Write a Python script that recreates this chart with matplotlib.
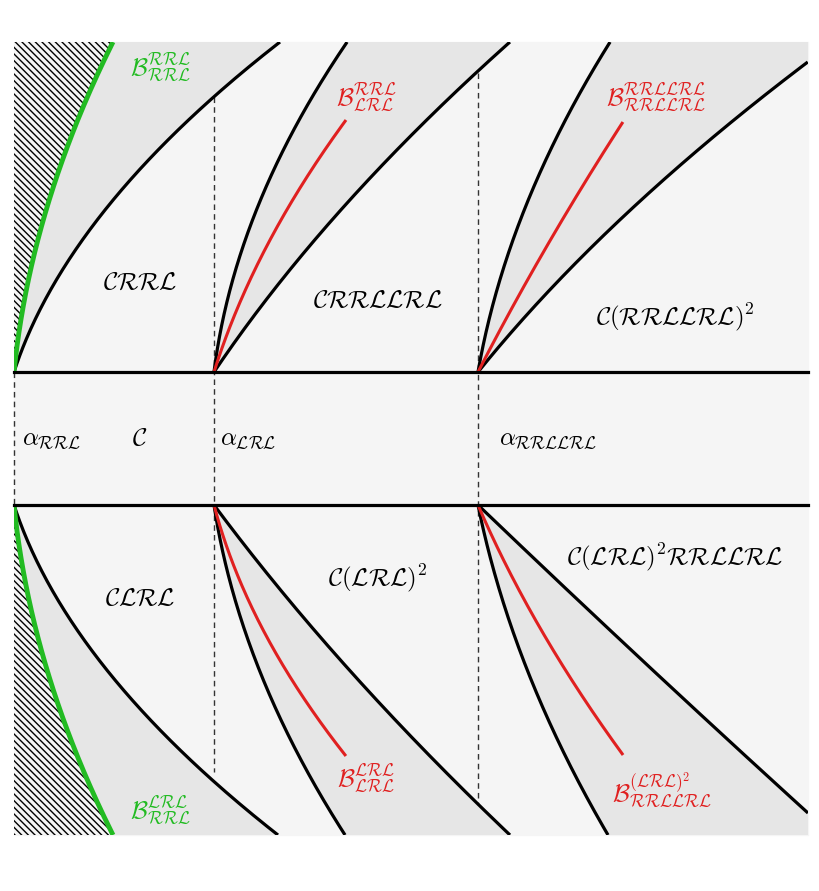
import numpy as np
import matplotlib
matplotlib.use("Agg")
import matplotlib.pyplot as plt
from matplotlib.patches import Rectangle, Polygon

plt.rcParams['mathtext.fontset'] = 'cm'

W, H = 820, 891
PX0, PX1, PY0, PY1 = 14, 808, 42, 835
Y_UP, Y_LO = 372, 505

# curves (pixel coordinates: x list, y list)
green_top_x = [14, 43, 73, 113];      green_top_y = [372, 223, 130, 42]
blk1_top_x = [14, 90, 213, 280];      blk1_top_y = [372, 230, 97, 42]
blk2L_top_x = [214, 228, 242, 256, 297, 347]; blk2L_top_y = [372, 300, 240, 200, 140, 42]
blk2R_top_x = [214, 278, 313, 348, 400, 478, 510]; blk2R_top_y = [372, 300, 240, 200, 140, 73, 42]
red2_top_x = [214, 243, 268, 293, 346]; red2_top_y = [372, 300, 240, 200, 120]
blk3L_top_x = [478, 495, 513, 522, 562, 610]; blk3L_top_y = [372, 300, 240, 200, 140, 42]
blk3R_top_x = [478, 563, 630, 703, 808]; blk3R_top_y = [372, 300, 200, 140, 62]
red3_top_x = [478, 523, 565, 623];    red3_top_y = [372, 300, 205, 122]

green_bot_x = [14, 43, 73, 113];      green_bot_y = [505, 654, 747, 835]
blk1_bot_x = [14, 90, 200, 278];      blk1_bot_y = [505, 647, 770, 835]
blk2L_bot_x = [214, 237, 265, 297, 345]; blk2L_bot_y = [505, 600, 700, 740, 835]
blk2R_bot_x = [214, 295, 322, 370, 417, 510]; blk2R_bot_y = [505, 600, 640, 700, 740, 835]
red2_bot_x = [214, 252, 300, 346];    red2_bot_y = [505, 600, 700, 756]
blk3L_bot_x = [478, 502, 540, 608];   blk3L_bot_y = [505, 600, 700, 835]
blk3R_bot_x = [478, 580, 683, 808];   blk3R_bot_y = [505, 600, 700, 813]
red3_bot_x = [478, 522, 588, 623];    red3_bot_y = [505, 600, 700, 755]

fig = plt.figure(figsize=(W/100, H/100), dpi=100)
ax = fig.add_axes([0, 0, 1, 1])
ax.set_xlim(0, W); ax.set_ylim(H, 0); ax.axis('off')
clip = Rectangle((PX0, PY0), PX1-PX0, PY1-PY0, transform=ax.transData)
ax.add_patch(Rectangle((PX0, PY0), PX1-PX0, PY1-PY0, color='#f5f5f5', zorder=0))

def smooth(xs, ys, n=200):
    ys = np.asarray(ys, float); xs = np.asarray(xs, float)
    w = np.ones_like(xs); w[0] = 20; w[-1] = 5
    c = np.polyfit(ys, xs, 2, w=w)
    yy = np.linspace(ys[0], ys[-1], n)
    return np.polyval(c, yy), yy

def wedge(L, R, yedge):
    xl, yl = L; xr, yr = R
    px = np.r_[xl, xl[-1], 900, 900, xr[::-1]]
    py = np.r_[yl, yedge, yedge, yr[-1], yr[::-1]]
    poly = Polygon(np.column_stack([px, py]), color='#e6e6e6', zorder=1, lw=0)
    ax.add_patch(poly); poly.set_clip_path(clip)

def line(c, color, lw):
    l, = ax.plot(c[0], c[1], color=color, lw=lw, zorder=3, solid_capstyle='butt')
    l.set_clip_path(clip)

for (gx, gy, b1x, b1y, b2lx, b2ly, b2rx, b2ry, r2x, r2y, b3lx, b3ly, b3rx, b3ry, r3x, r3y, yedge) in [
    (green_top_x, green_top_y, blk1_top_x, blk1_top_y, blk2L_top_x, blk2L_top_y,
     blk2R_top_x, blk2R_top_y, red2_top_x, red2_top_y, blk3L_top_x, blk3L_top_y,
     blk3R_top_x, blk3R_top_y, red3_top_x, red3_top_y, PY0),
    (green_bot_x, green_bot_y, blk1_bot_x, blk1_bot_y, blk2L_bot_x, blk2L_bot_y,
     blk2R_bot_x, blk2R_bot_y, red2_bot_x, red2_bot_y, blk3L_bot_x, blk3L_bot_y,
     blk3R_bot_x, blk3R_bot_y, red3_bot_x, red3_bot_y, PY1)]:
    G = smooth(gx, gy); B1 = smooth(b1x, b1y)
    xl, yl = G; xr, yr = B1
    poly = Polygon(np.column_stack([np.r_[xl, xr[::-1]], np.r_[yl, yr[::-1]]]),
                   color='#e6e6e6', zorder=1, lw=0)
    ax.add_patch(poly)
    hp = Polygon(np.column_stack([np.r_[G[0], PX0, PX0], np.r_[G[1], yedge, G[1][0]]]),
                 facecolor='#f5f5f5', edgecolor='black', hatch='\\\\\\\\\\', lw=0, zorder=1)
    ax.add_patch(hp)
    line(B1, 'black', 2.3)
    line(G, '#22bb22', 3.5)
    for (lx, ly, rx, ry, qx, qy) in [(b2lx, b2ly, b2rx, b2ry, r2x, r2y),
                                     (b3lx, b3ly, b3rx, b3ry, r3x, r3y)]:
        Lc = smooth(lx, ly); Rc = smooth(rx, ry)
        wedge(Lc, Rc, yedge)
        line(Lc, 'black', 2.3); line(Rc, 'black', 2.3)
        line(smooth(qx, qy), '#e02020', 2.2)

ax.plot([PX0, PX1], [Y_UP, Y_UP], color='black', lw=2.3, zorder=3)
ax.plot([PX0, PX1], [Y_LO, Y_LO], color='black', lw=2.3, zorder=3)
dash = dict(color='#333333', lw=1, ls=(0, (4, 3)), zorder=2)
ax.plot([14, 14], [Y_UP, Y_LO], **dash)
ax.plot([214, 214], [97, 772], **dash)
ax.plot([478, 478], [73, 805], **dash)

fs = 18
def t(x, y, s, c='black', size=fs):
    ax.text(x, y, s, color=c, fontsize=size, ha='center', va='center', zorder=5)

t(140, 282, r'$\mathcal{CRRL}$')
t(378, 300, r'$\mathcal{CRRLLRL}$')
t(675, 317, r'$\mathcal{C}(\mathcal{RRLLRL})^2$')
t(52, 438, r'$\alpha_{\mathcal{RRL}}$')
t(140, 438, r'$\mathcal{C}$')
t(248, 438, r'$\alpha_{\mathcal{LRL}}$')
t(548, 438, r'$\alpha_{\mathcal{RRLLRL}}$')
t(140, 598, r'$\mathcal{CLRL}$')
t(378, 578, r'$\mathcal{C}(\mathcal{LRL})^2$')
t(675, 557, r'$\mathcal{C}(\mathcal{LRL})^2\mathcal{RRLLRL}$')
g = '#22bb22'; r = '#e02020'
t(160, 67, r'$\mathcal{B}^{\mathcal{RRL}}_{\mathcal{RRL}}$', g)
t(366, 97, r'$\mathcal{B}^{\mathcal{RRL}}_{\mathcal{LRL}}$', r)
t(656, 97, r'$\mathcal{B}^{\mathcal{RRLLRL}}_{\mathcal{RRLLRL}}$', r)
t(366, 778, r'$\mathcal{B}^{\mathcal{LRL}}_{\mathcal{LRL}}$', r)
t(160, 810, r'$\mathcal{B}^{\mathcal{LRL}}_{\mathcal{RRL}}$', g)
t(662, 790, r'$\mathcal{B}^{(\mathcal{LRL})^2}_{\mathcal{RRLLRL}}$', r)

fig.savefig('out.png', dpi=100)
